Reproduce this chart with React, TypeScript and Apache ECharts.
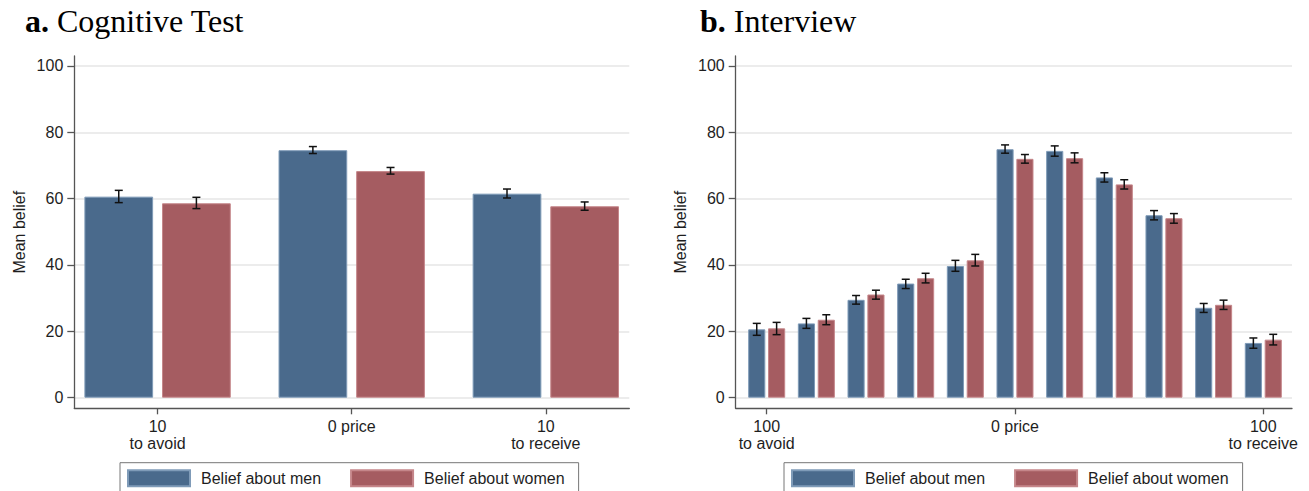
import React, { useEffect, useRef } from 'react';
import * as echarts from 'echarts';

// ---------- data ----------
const leftCategories = ['10\nto avoid', '0 price', '10\nto receive'];
const leftMen = [60.6, 74.6, 61.5];
const leftMenLow = [58.8, 73.6, 60.2];
const leftMenHigh = [62.5, 75.7, 62.9];
const leftWomen = [58.6, 68.3, 57.7];
const leftWomenLow = [57.0, 67.4, 56.5];
const leftWomenHigh = [60.4, 69.4, 59.0];

const rightCategories = ['100\nto avoid', '80', '60', '40', '20', '0 price', '20', '40', '60', '80', '100\nto receive'];
const rightLabelled = [0, 5, 10];
const rightMen = [20.6, 22.4, 29.5, 34.4, 39.7, 74.9, 74.4, 66.4, 55.0, 27.1, 16.5];
const rightMenLow = [18.8, 20.9, 28.2, 32.9, 38.1, 73.7, 72.8, 65.0, 53.6, 25.7, 14.9];
const rightMenHigh = [22.4, 23.9, 30.8, 35.7, 41.4, 76.2, 75.9, 67.8, 56.4, 28.4, 18.0];
const rightWomen = [20.9, 23.5, 31.1, 36.0, 41.4, 72.0, 72.2, 64.3, 54.1, 28.0, 17.5];
const rightWomenLow = [19.0, 22.0, 29.7, 34.6, 39.7, 70.7, 70.8, 62.9, 52.6, 26.6, 15.9];
const rightWomenHigh = [22.7, 25.0, 32.4, 37.5, 43.2, 73.3, 73.8, 65.7, 55.5, 29.4, 19.1];

const yTicks = [0, 20, 40, 60, 80, 100];
const seriesNames = ['Belief about men', 'Belief about women'];

// ---------- style ----------
const SANS = 'Liberation Sans, Arial, Helvetica, sans-serif';
const SERIF = 'Liberation Serif, Times New Roman, serif';
const MEN = '#4a6a8c';
const MEN_EDGE = '#7f9bb8';
const WOMEN = '#a55c61';
const WOMEN_EDGE = '#c5868a';
const AXIS = '#555555';
const TEXT = '#1e1e1e';
const Y_MIN = -3.2;
const Y_MAX = 103;
const OFFSET = 0.2;

function yAxis(gridIndex: number) {
  return {
    type: 'value',
    gridIndex,
    min: Y_MIN,
    max: Y_MAX,
    name: 'Mean belief',
    nameLocation: 'middle',
    nameGap: 47,
    nameTextStyle: { fontFamily: SANS, fontSize: 16, color: TEXT },
    axisLine: { show: true, onZero: false, lineStyle: { color: AXIS, width: 1.3 } },
    axisTick: { show: true, length: 7, customValues: yTicks, lineStyle: { color: AXIS, width: 1.3 } },
    axisLabel: { customValues: yTicks, margin: 11, fontFamily: SANS, fontSize: 16, color: TEXT },
    splitLine: { show: true, lineStyle: { color: '#e6e6e6', width: 1.5 } },
  };
}

function xAxis(gridIndex: number, min: number, max: number, ticks: number[], cats: string[]) {
  return {
    type: 'value',
    gridIndex,
    min,
    max,
    axisLine: { show: true, onZero: false, lineStyle: { color: AXIS, width: 1.3 } },
    axisTick: { show: true, length: 6, customValues: ticks, lineStyle: { color: AXIS, width: 1.3 } },
    axisLabel: {
      customValues: ticks,
      formatter: (v: number) => cats[Math.round(v)] ?? '',
      margin: 10,
      lineHeight: 17,
      fontFamily: SANS,
      fontSize: 16,
      color: TEXT,
    },
    splitLine: { show: false },
  };
}

function bar(name: string, idx: number, values: number[], color: string, edge: string, width: string, gap: string) {
  return {
    type: 'bar',
    name,
    xAxisIndex: idx,
    yAxisIndex: idx,
    data: values.map((v, i) => [i, v]),
    barWidth: width,
    barGap: gap,
    itemStyle: { color, borderColor: edge, borderWidth: 1 },
    emphasis: { disabled: true },
  };
}

function errSeries(idx: number, low: number[], high: number[], off: number) {
  return {
    type: 'custom',
    name: 'err' + idx + off,
    xAxisIndex: idx,
    yAxisIndex: idx,
    silent: true,
    z: 5,
    data: low.map((l, i) => [i, l, high[i]]),
    encode: { x: 0, y: [1, 2] },
    renderItem: (params: any, api: any) => {
      const x = api.value(0) + off;
      const a = api.coord([x, api.value(1)]);
      const b = api.coord([x, api.value(2)]);
      const cap = 4;
      const style = { stroke: '#111', lineWidth: 1.5 };
      return {
        type: 'group',
        children: [
          { type: 'line', shape: { x1: a[0], y1: a[1], x2: b[0], y2: b[1] }, style },
          { type: 'line', shape: { x1: a[0] - cap, y1: a[1], x2: a[0] + cap, y2: a[1] }, style },
          { type: 'line', shape: { x1: b[0] - cap, y1: b[1], x2: b[0] + cap, y2: b[1] }, style },
        ],
      };
    },
  };
}

function legend(left: number) {
  return {
    left,
    top: 462.7,
    orient: 'horizontal',
    icon: 'rect',
    itemWidth: 62,
    itemHeight: 16,
    itemGap: 29,
    borderColor: '#777',
    borderWidth: 1,
    padding: [6.5, 14, 8, 7],
    selectedMode: false,
    textStyle: { fontFamily: SANS, fontSize: 16, color: TEXT, padding: [0, 0, 0, 6] },
    data: seriesNames,
  };
}

function title(left: number, bold: string, rest: string) {
  return {
    text: `{b|${bold}}{n| ${rest}}`,
    left,
    top: 5,
    padding: 0,
    textStyle: {
      fontWeight: 'normal',
      rich: {
        b: { fontFamily: SERIF, fontWeight: 'bold', fontSize: 32, color: '#000' },
        n: { fontFamily: SERIF, fontWeight: 'normal', fontSize: 32, color: '#000' },
      },
    },
  };
}

export default function App() {
  const ref = useRef<HTMLDivElement>(null);
  useEffect(() => {
    if (!ref.current) return;
    const chart = echarts.init(ref.current, null, { renderer: 'svg' });
    chart.setOption({
      animation: false,
      backgroundColor: '#ffffff',
      title: [title(25, 'a.', 'Cognitive Test'), title(700, 'b.', 'Interview')],
      legend: [legend(120), legend(784)],
      grid: [
        { left: 74.3, right: 679.7, top: 56, bottom: 82.7, containLabel: false, outerBoundsMode: 'none' },
        { left: 735.7, right: 17, top: 56, bottom: 82.7, containLabel: false, outerBoundsMode: 'none' },
      ],
      xAxis: [
        xAxis(0, -0.429, 2.43, [0, 1, 2], leftCategories),
        xAxis(1, -0.624, 10.578, rightLabelled, rightCategories),
      ],
      yAxis: [yAxis(0), yAxis(1)],
      series: [
        bar(seriesNames[0], 0, leftMen, MEN, MEN_EDGE, '35.4%', '13%'),
        bar(seriesNames[1], 0, leftWomen, WOMEN, WOMEN_EDGE, '35.4%', '13%'),
        bar(seriesNames[0], 1, rightMen, MEN, MEN_EDGE, '34.5%', '16%'),
        bar(seriesNames[1], 1, rightWomen, WOMEN, WOMEN_EDGE, '34.5%', '16%'),
        errSeries(0, leftMenLow, leftMenHigh, -OFFSET),
        errSeries(0, leftWomenLow, leftWomenHigh, OFFSET),
        errSeries(1, rightMenLow, rightMenHigh, -OFFSET),
        errSeries(1, rightWomenLow, rightWomenHigh, OFFSET),
      ],
    });
    return () => chart.dispose();
  }, []);
  return (
    <div
      ref={ref}
      style={{ position: 'absolute', left: 0, top: 0, width: 1309, height: 491, background: '#fff' }}
    />
  );
}
